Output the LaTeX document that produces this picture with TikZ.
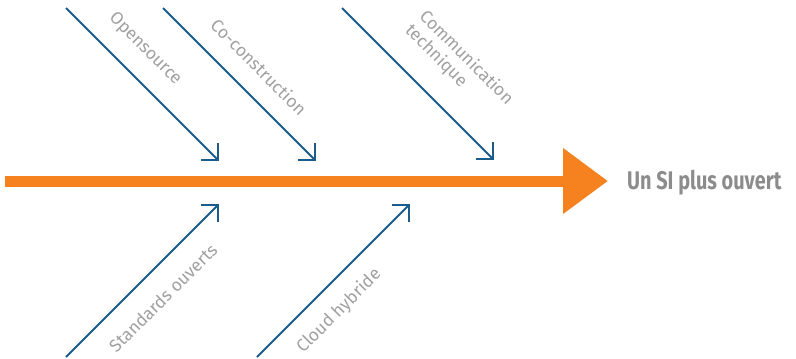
\documentclass[tikz,border=0pt]{standalone}
\usepackage{fontspec}
\setmainfont{Fira Sans}
\newfontfamily\titlefont[FakeStretch=0.78]{Fira Sans}
\usetikzlibrary{arrows.meta}
\definecolor{spineorange}{HTML}{F5821F}
\definecolor{boneblue}{HTML}{1B5C8C}
\definecolor{labelgray}{HTML}{A0A0A0}
\definecolor{titlegray}{HTML}{8C8C8C}
\tikzset{
  bone/.style={draw=boneblue, line width=2pt, -{Straight Barb[angle=90:17pt, line join=miter, line cap=butt]}},
  bonelabel/.style={text=labelgray, font=\fontsize{17.5}{20}\selectfont, inner sep=0pt, align=left},
  spine/.style={draw=spineorange, line width=11pt, -{Triangle[length=45pt, width=63pt]}},
}
\begin{document}
\begin{tikzpicture}[x=1pt,y=-1pt]
\useasboundingbox (0,0) rectangle (796,359);
\coordinate (tail) at (5,181);
\coordinate (head) at (608,181);
\draw[spine] (tail) -- (head);
\node[anchor=base west, text=titlegray, font=\titlefont\bfseries\fontsize{25.5}{30}\selectfont, inner sep=0pt] (effect) at (627,189) {Un SI plus ouvert};

\coordinate (s1) at (66,8);   \coordinate (e1) at (219,161);
\coordinate (s2) at (163,8);  \coordinate (e2) at (316,161);
\coordinate (s3) at (342,8);  \coordinate (e3) at (494,160);
\coordinate (s4) at (66,357); \coordinate (e4) at (219,204);
\coordinate (s5) at (257,357);\coordinate (e5) at (410,204);
\draw[bone] (s1) -- (e1);
\draw[bone] (s2) -- (e2);
\draw[bone] (s3) -- (e3);
\draw[bone] (s4) -- (e4);
\draw[bone] (s5) -- (e5);

\node[bonelabel, rotate=-45] (l1) at (145,49) {Opensource};
\node[bonelabel, rotate=-45] (l2) at (259,67) {Co-construction};
\node[bonelabel, rotate=-45] (l3) at (459,65) {Communication\\technique};
\node[bonelabel, rotate=45] (l4) at (163,298) {Standards ouverts};
\node[bonelabel, rotate=45] (l5) at (339,311) {Cloud hybride};
\end{tikzpicture}
\end{document}
